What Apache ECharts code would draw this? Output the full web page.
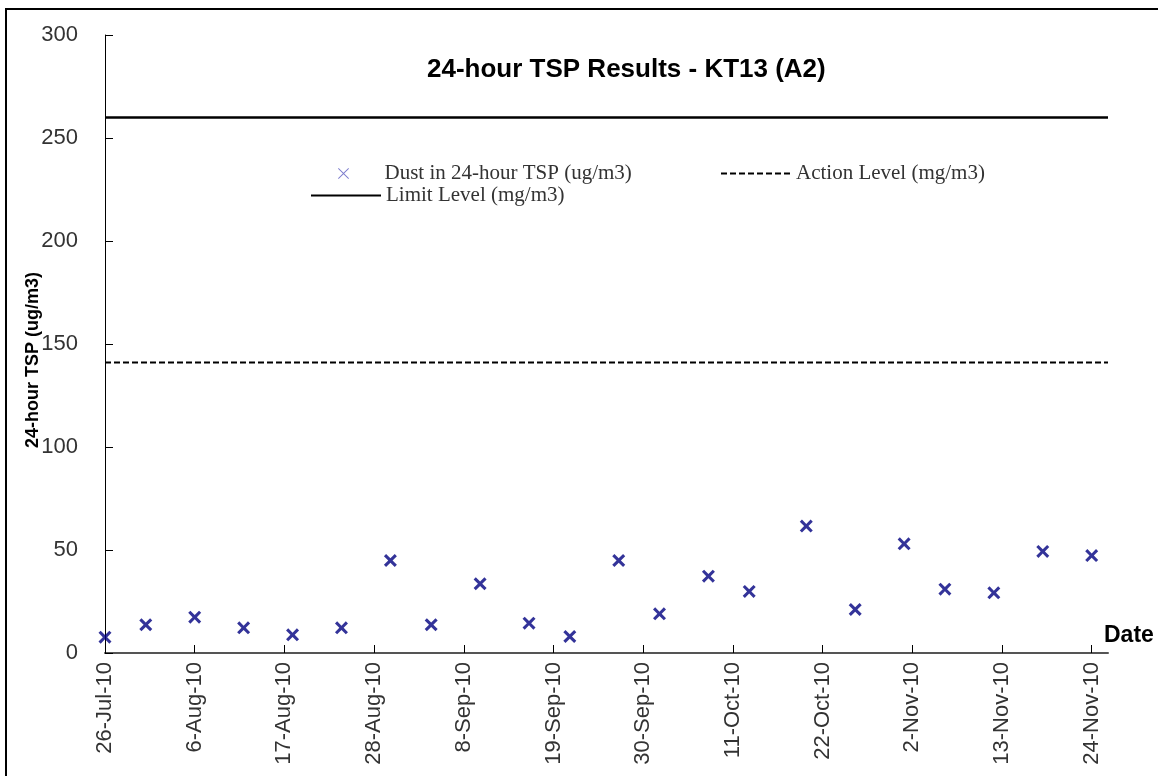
<!DOCTYPE html>
<html>
<head>
<meta charset="utf-8">
<title>24-hour TSP Results - KT13 (A2)</title>
<script src="https://cdn.jsdelivr.net/npm/echarts@6/dist/echarts.min.js"></script>
<style>
  html, body { margin: 0; padding: 0; background: #fff; }
  #chart { width: 1158px; height: 776px; }
</style>
</head>
<body>
<div id="chart"></div>
<script>
// sample dates and readings (ug/m3)
const sampleDates = [
  '26-Jul-10', '31-Jul-10', '6-Aug-10', '12-Aug-10', '18-Aug-10', '24-Aug-10',
  '30-Aug-10', '4-Sep-10', '10-Sep-10', '16-Sep-10', '21-Sep-10', '27-Sep-10',
  '2-Oct-10', '8-Oct-10', '13-Oct-10', '20-Oct-10', '26-Oct-10', '1-Nov-10',
  '6-Nov-10', '12-Nov-10', '18-Nov-10', '24-Nov-10'
]
const dustValues = [
  7.7, 13.7, 17.4, 12.2, 8.8, 12.2,
  44.9, 13.7, 33.6, 14.5, 8.0, 44.9,
  19.0, 37.3, 29.9, 61.6, 21.1, 53.0,
  31.0, 29.2, 49.3, 47.3
]
const tickLabels = [
  '26-Jul-10', '6-Aug-10', '17-Aug-10', '28-Aug-10', '8-Sep-10', '19-Sep-10',
  '30-Sep-10', '11-Oct-10', '22-Oct-10', '2-Nov-10', '13-Nov-10', '24-Nov-10'
]
const axisEndDate = '26-Nov-10'
const actionLevel = 141
const limitLevel = 260

const months = ['Jan', 'Feb', 'Mar', 'Apr', 'May', 'Jun', 'Jul', 'Aug', 'Sep', 'Oct', 'Nov', 'Dec']
const DAY = 86400000
const start = parseDate(tickLabels[0])

function parseDate (s) {
  const p = s.split('-')
  return Date.UTC(2000 + Number(p[2]), months.indexOf(p[1]), Number(p[0]))
}
function dayOf (s) {
  return Math.round((parseDate(s) - start) / DAY)
}
function label (v) {
  const d = new Date(start + v * DAY)
  return d.getUTCDate() + '-' + months[d.getUTCMonth()] + '-' + String(d.getUTCFullYear()).slice(2)
}

const tickDays = tickLabels.map(dayOf)
const endDay = dayOf(axisEndDate)
const points = sampleDates.map((d, i) => [dayOf(d), dustValues[i]])

const sans = '"Liberation Sans Narrow", "Arial Narrow", "Liberation Sans", Arial, sans-serif'
const crossBold = 'path://M0,2 L2,0 L6,4 L10,0 L12,2 L8,6 L12,10 L10,12 L6,8 L2,12 L0,10 L4,6 Z'
const crossThin = 'path://M0,0.7 L0.7,0 L6,5.3 L11.3,0 L12,0.7 L6.7,6 L12,11.3 L11.3,12 L6,6.7 L0.7,12 L0,11.3 L5.3,6 Z'

const legendText = { fontFamily: '"Liberation Serif", "Times New Roman", serif', fontSize: 21, color: '#333' }
const noDot = { opacity: 0 }

const chart = echarts.init(document.getElementById('chart'))
const option = {
  animation: false,
  backgroundColor: '#fff',
  graphic: [{
    type: 'rect',
    shape: { x: 6, y: 9, width: 1300, height: 900 },
    style: { fill: 'none', stroke: '#000', lineWidth: 2 },
    silent: true
  }],
  title: {
    text: '24-hour TSP Results - KT13 (A2)',
    left: 427,
    top: 57,
    padding: 0,
    textStyle: { fontFamily: sans, fontSize: 26, fontWeight: 'bold', color: '#000' }
  },
  legend: [{
    left: 338,
    top: 163,
    padding: 0,
    itemWidth: 12,
    itemHeight: 11,
    textStyle: Object.assign({ padding: [0, 0, 0, 30] }, legendText),
    data: [{ name: 'Dust in 24-hour TSP (ug/m3)', icon: crossThin, itemStyle: { color: '#5c5cc0' } }]
  }, {
    left: 720,
    top: 163,
    padding: 0,
    itemWidth: 70,
    itemHeight: 11,
    textStyle: legendText,
    data: [{ name: 'Action Level (mg/m3)', itemStyle: noDot }]
  }, {
    left: 310,
    top: 185,
    padding: 0,
    itemWidth: 70,
    itemHeight: 11,
    textStyle: legendText,
    data: [{ name: 'Limit Level (mg/m3)', itemStyle: noDot }]
  }],
  grid: { left: 105, right: 50, top: 35, bottom: 123 },
  xAxis: {
    type: 'value',
    min: 0,
    max: endDay,
    name: 'Date',
    nameLocation: 'end',
    nameGap: -4,
    nameTextStyle: {
      fontFamily: sans, fontSize: 23, fontWeight: 'bold', color: '#000',
      align: 'left', verticalAlign: 'bottom', padding: [0, 0, 6, 0]
    },
    axisLine: { lineStyle: { color: '#555', width: 2 } },
    axisTick: { inside: true, length: 8, customValues: tickDays, lineStyle: { color: '#000', width: 1 } },
    axisLabel: {
      customValues: tickDays,
      rotate: 90,
      margin: 9,
      formatter: label,
      fontFamily: sans,
      fontSize: 22,
      color: '#333'
    },
    splitLine: { show: false }
  },
  yAxis: {
    type: 'value',
    min: 0,
    max: 300,
    interval: 50,
    name: '24-hour TSP (ug/m3)',
    nameLocation: 'middle',
    nameRotate: 90,
    nameGap: 63,
    nameMoveOverlap: false,
    nameTextStyle: { fontFamily: sans, fontSize: 18, fontWeight: 'bold', color: '#000', padding: [0, 32, 0, 0] },
    axisLine: { show: true, lineStyle: { color: '#000', width: 1 } },
    axisTick: { show: true, inside: true, length: 8, lineStyle: { color: '#000' } },
    axisLabel: { margin: 27, fontFamily: sans, fontSize: 22, color: '#333' },
    splitLine: { show: false }
  },
  series: [
    {
      name: 'Dust in 24-hour TSP (ug/m3)',
      type: 'scatter',
      symbol: crossBold,
      symbolSize: 13,
      itemStyle: { color: '#000080' },
      data: points,
      z: 3
    },
    {
      name: 'Action Level (mg/m3)',
      type: 'line',
      symbol: 'none',
      itemStyle: { color: '#000' },
      lineStyle: { color: '#000', width: 2, type: [6, 3] },
      data: [[0, actionLevel], [endDay, actionLevel]]
    },
    {
      name: 'Limit Level (mg/m3)',
      type: 'line',
      symbol: 'none',
      itemStyle: { color: '#000' },
      lineStyle: { color: '#000', width: 2.5 },
      data: [[0, limitLevel], [endDay, limitLevel]]
    }
  ]
}
chart.setOption(option)

window.onresize = () => {
  chart.resize()
}
</script>
</body>
</html>
